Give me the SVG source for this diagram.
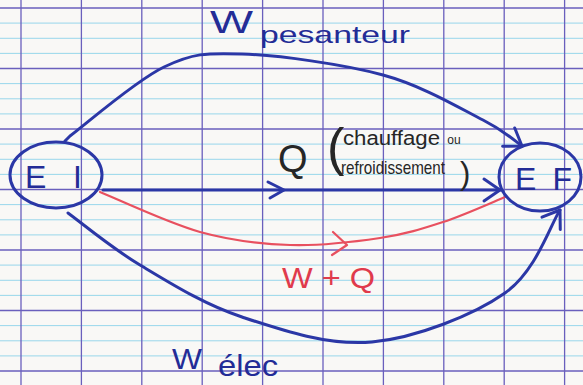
<svg xmlns="http://www.w3.org/2000/svg" width="583" height="385" viewBox="0 0 583 385">
<style>
.ink{fill:none;stroke:#2b37a6;stroke-width:3;stroke-linecap:round;stroke-linejoin:round}
.red{fill:none;stroke:#e8505f;stroke-width:2.2;stroke-linecap:round;stroke-linejoin:round}
.node{fill:none;stroke:#2b37a6;stroke-width:3}
.t{font-family:"Liberation Sans","DejaVu Sans",sans-serif}
.tb{fill:#232c96}
.tk{fill:#262626}
.tr{fill:#e03a4c}
.purple{stroke:#6a5fbd;stroke-width:1.3;fill:none}
.cyan{stroke:#8dd3ea;stroke-width:0.9;fill:none}
</style>
<defs>
<marker id="arr" markerUnits="userSpaceOnUse" markerWidth="40" markerHeight="40" refX="0" refY="0" viewBox="-25 -20 30 40" orient="auto" overflow="visible">
<path d="M-16,-11 L0,0 L-16,11" fill="none" stroke="#2b37a6" stroke-width="3" stroke-linecap="round" stroke-linejoin="round"/>
</marker>
</defs>
<g id="paper">
<rect width="583" height="385" fill="#f9f8f6"/>
<path class="cyan" d="M0,23.1H583M0,38.3H583M0,53.4H583M0,83.6H583M0,98.8H583M0,113.9H583M0,144.1H583M0,159.3H583M0,174.4H583M0,204.6H583M0,219.8H583M0,234.9H583M0,265.1H583M0,280.3H583M0,295.4H583M0,325.6H583M0,340.8H583M0,355.9H583"/>
<path class="purple" d="M0,8H583M0,68.5H583M0,129H583M0,189.5H583M0,250H583M0,310.5H583M0,371H583M21,0V385M81.4,0V385M141.8,0V385M202.2,0V385M262.6,0V385M323,0V385M383.4,0V385M443.8,0V385M504.2,0V385M564.6,0V385"/>
</g>
<g id="connectors">
<path id="w-pesanteur" class="ink" marker-end="url(#arr)" d="M65,141 L70,136 C85.7,124.5 135.3,80.7 164,67 C192.7,53.3 205.5,52.7 242,54 C278.5,55.3 342.8,64 383,75 C423.2,86 459.8,108.2 483,120 C506.2,131.8 515.5,141.7 522,146"/>
<path id="q" class="ink" stroke="#22308f" marker-end="url(#arr)" d="M103,190 L500,190"/>
<path class="ink" stroke="#2a2a2a" stroke-width="2.5" d="M268,182 L284,190 L270,198"/>
<path id="w-plus-q" class="red" d="M100,192 C116.7,198.7 168.3,223.2 200,232 C231.7,240.8 260,244 290,245 C320,246 354.5,241.8 380,238 C405.5,234.2 422.2,228.8 443,222 C463.8,215.2 494.7,201.2 505,197"/>
<path class="red" d="M333,232 L347,245 L332,255"/>
<path id="w-elec" class="ink" marker-end="url(#arr)" d="M68,213 C80,221.7 111,247.7 140,265 C169,282.3 203.3,304.2 242,317 C280.7,329.8 328.2,346 372,342 C415.8,338 473.7,315 505,293 C536.3,271 550.8,223.8 560,210"/>
</g>
<g id="node-EI">
<ellipse class="node" cx="56" cy="175" rx="46" ry="33"/>
<text class="t tb" x="25" y="188" font-size="32" textLength="57" lengthAdjust="spacing">E I</text>
</g>
<g id="node-EF">
<ellipse class="node" cx="540" cy="177" rx="41" ry="34"/>
<text class="t tb" x="515" y="190" font-size="32" textLength="57" lengthAdjust="spacing">E F</text>
</g>
<g id="labels">
<text class="t tb"><tspan x="210" y="33" font-size="32" textLength="43" lengthAdjust="spacingAndGlyphs">W</tspan><tspan x="260" y="43" font-size="24" textLength="150" lengthAdjust="spacingAndGlyphs">pesanteur</tspan></text>
<text class="t tk" x="278" y="172" font-size="38">Q</text>
<text class="t tk"><tspan x="327" y="165" font-size="52">(</tspan><tspan x="343" y="145" font-size="20" textLength="97" lengthAdjust="spacingAndGlyphs">chauffage</tspan><tspan x="444" y="144" font-size="12"> ou</tspan><tspan x="341" y="174" font-size="19" textLength="104" lengthAdjust="spacingAndGlyphs">refroidissement</tspan><tspan x="460" y="184" font-size="31">)</tspan></text>
<text class="t tr" x="282" y="288" font-size="30" textLength="93" lengthAdjust="spacingAndGlyphs">W + Q</text>
<text class="t tb"><tspan x="172" y="369" font-size="30" textLength="30" lengthAdjust="spacingAndGlyphs">W</tspan><tspan x="218" y="376" font-size="30" textLength="60" lengthAdjust="spacingAndGlyphs">élec</tspan></text>
</g>
</svg>
